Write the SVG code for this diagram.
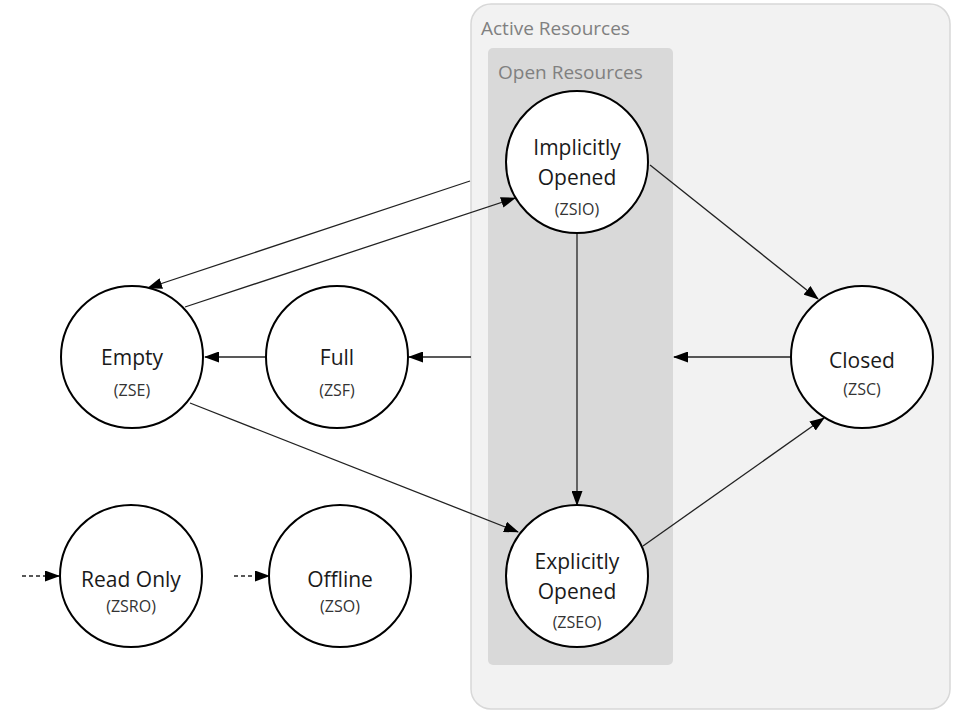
<svg xmlns="http://www.w3.org/2000/svg" width="954" height="712" viewBox="0 0 954 712">
<defs>
<marker id="ah" viewBox="0 0 15 11" refX="14" refY="5.5" markerWidth="15" markerHeight="11" markerUnits="userSpaceOnUse" orient="auto">
<path d="M0,0 L15,5.5 L0,11 Z" fill="#000"/>
</marker>
</defs>
<style>
.node{fill:#fff;stroke:#000;stroke-width:2}
.t{font-family:"Open Sans","Noto Sans",sans-serif;font-size:21px;fill:#1a1a1a;text-anchor:middle}
.s{font-family:"Open Sans","Noto Sans",sans-serif;font-size:16px;fill:#333;text-anchor:middle}
.g{font-family:"Open Sans","Noto Sans",sans-serif;font-size:19px;fill:#808080}
.e{fill:none;stroke:#222;stroke-width:1.3;marker-end:url(#ah)}
.d{stroke-dasharray:4,3}
</style>
<rect width="954" height="712" fill="#fff"/>
<g id="active-resources">
<rect x="471" y="4" width="479" height="705" rx="20" fill="#f2f2f2" stroke="#d8d8d8" stroke-width="1.5"/>
<text class="g" x="481" y="35">Active Resources</text>
</g>
<g id="open-resources">
<rect x="488" y="48" width="185" height="617" rx="5" fill="#d9d9d9"/>
<text class="g" x="498" y="79">Open Resources</text>
</g>
<g id="connectors">
<line class="e" x1="470" y1="181" x2="148" y2="288"/>
<line class="e" x1="185" y1="307" x2="515" y2="198"/>
<line class="e" x1="267" y1="357" x2="205" y2="357"/>
<line class="e" x1="471" y1="357" x2="409" y2="357"/>
<line class="e" x1="791" y1="357" x2="674" y2="357"/>
<line class="e" x1="650" y1="165" x2="818" y2="299"/>
<line class="e" x1="643" y1="546" x2="824" y2="418"/>
<line class="e" x1="577" y1="233" x2="577" y2="505"/>
<line class="e" x1="190" y1="403" x2="518" y2="532"/>
<line class="e d" x1="22" y1="576" x2="59" y2="576"/>
<line class="e d" x1="234" y1="576" x2="269" y2="576"/>
</g>
<g id="implicitly-opened">
<circle class="node" cx="577" cy="162" r="71"/>
<text class="t" x="577" y="155">Implicitly</text>
<text class="t" x="577" y="185">Opened</text>
<text class="s" x="577" y="215">(ZSIO)</text>
</g>
<g id="explicitly-opened">
<circle class="node" cx="577" cy="576" r="71"/>
<text class="t" x="577" y="569">Explicitly</text>
<text class="t" x="577" y="599">Opened</text>
<text class="s" x="577" y="628">(ZSEO)</text>
</g>
<g id="closed">
<circle class="node" cx="862" cy="357" r="71"/>
<text class="t" x="862" y="368">Closed</text>
<text class="s" x="862" y="395">(ZSC)</text>
</g>
<g id="empty">
<circle class="node" cx="132" cy="357" r="71"/>
<text class="t" x="132" y="365">Empty</text>
<text class="s" x="132" y="396">(ZSE)</text>
</g>
<g id="full">
<circle class="node" cx="337" cy="357" r="71"/>
<text class="t" x="337" y="365">Full</text>
<text class="s" x="337" y="396">(ZSF)</text>
</g>
<g id="read-only">
<circle class="node" cx="131" cy="576" r="71"/>
<text class="t" x="131" y="587">Read Only</text>
<text class="s" x="131" y="612">(ZSRO)</text>
</g>
<g id="offline">
<circle class="node" cx="340" cy="576" r="71"/>
<text class="t" x="340" y="587">Offline</text>
<text class="s" x="340" y="612">(ZSO)</text>
</g>
</svg>
